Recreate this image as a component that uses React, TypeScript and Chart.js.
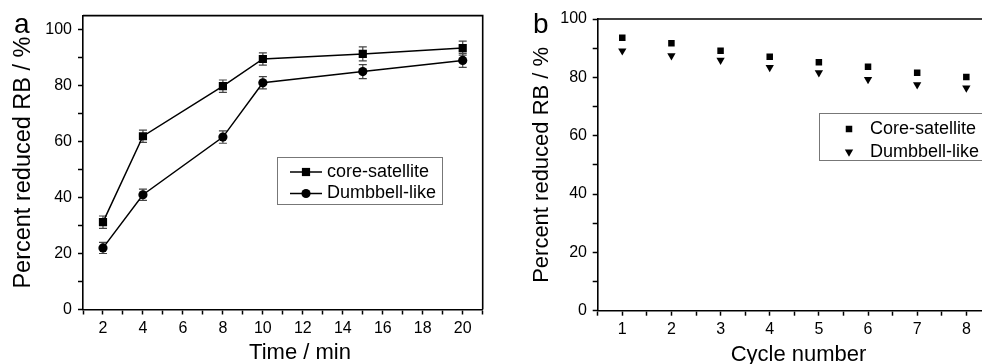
import React, { useEffect, useRef } from "react";
import { Chart, registerables } from "chart.js";
Chart.register(...registerables);

// ---------- data ----------
const timeMin = [2, 4, 8, 10, 15, 20];
const coreSatA = [31.2, 61.9, 79.8, 89.5, 91.3, 93.4];
const coreSatAErr = [2.2, 2.2, 2.2, 2.2, 2.5, 2.5];
const dumbbellA = [22.0, 41.0, 61.6, 81.0, 85.0, 89.0];
const dumbbellAErr = [2.0, 2.0, 2.2, 2.2, 2.5, 2.5];

const cycles = [1, 2, 3, 4, 5, 6, 7, 8];
const coreSatB = [93.6, 91.7, 89.1, 87.1, 85.2, 83.6, 81.6, 80.1];
const dumbbellB = [89.1, 87.4, 85.9, 83.4, 81.6, 79.3, 77.5, 76.4];

const yTickLabels = [0, 20, 40, 60, 80, 100];
const xTickLabelsA = [2, 4, 6, 8, 10, 12, 14, 16, 18, 20];
const xTickLabelsB = [1, 2, 3, 4, 5, 6, 7, 8];

const legendA = ["core-satellite", "Dumbbell-like"];
const legendB = ["Core-satellite", "Dumbbell-like"];

const FONT = "'Liberation Sans', Arial, sans-serif";

// ---------- plugins ----------
const framePlugin = {
  id: "frame",
  afterDatasetsDraw(chart: any) {
    const { ctx, chartArea: a } = chart;
    ctx.save();
    ctx.strokeStyle = "#000";
    ctx.lineWidth = 1.6;
    ctx.beginPath();
    ctx.moveTo(a.left, a.top);
    ctx.lineTo(a.right, a.top);
    ctx.lineTo(a.right, a.bottom);
    ctx.stroke();
    ctx.restore();
  },
};

const errorBarPlugin = {
  id: "errorBars",
  beforeDatasetsDraw(chart: any) {
    const { ctx } = chart;
    const xs = chart.scales.x;
    const ys = chart.scales.y;
    ctx.save();
    ctx.strokeStyle = "#444";
    ctx.lineWidth = 1.2;
    chart.data.datasets.forEach((ds: any) => {
      if (!ds.errors) return;
      ds.data.forEach((p: any, i: number) => {
        const e = ds.errors[i];
        const px = xs.getPixelForValue(p.x);
        const top = ys.getPixelForValue(p.y + e);
        const bot = ys.getPixelForValue(p.y - e);
        ctx.beginPath();
        ctx.moveTo(px, top);
        ctx.lineTo(px, bot);
        ctx.moveTo(px - 4, top);
        ctx.lineTo(px + 4, top);
        ctx.moveTo(px - 4, bot);
        ctx.lineTo(px + 4, bot);
        ctx.stroke();
      });
    });
    ctx.restore();
  },
};

function drawMarker(ctx: any, style: string, x: number, y: number, r: number, rot = 0) {
  ctx.save();
  ctx.fillStyle = "#000";
  ctx.beginPath();
  if (style === "rect") {
    const s = Math.SQRT1_2 * r;
    ctx.rect(x - s, y - s, 2 * s, 2 * s);
  } else if (style === "circle") {
    ctx.arc(x, y, r, 0, Math.PI * 2);
  } else if (style === "triangle") {
    let rad = (rot * Math.PI) / 180;
    ctx.moveTo(x + Math.sin(rad) * r, y - Math.cos(rad) * r);
    rad += (2 * Math.PI) / 3;
    ctx.lineTo(x + Math.sin(rad) * r, y - Math.cos(rad) * r);
    rad += (2 * Math.PI) / 3;
    ctx.lineTo(x + Math.sin(rad) * r, y - Math.cos(rad) * r);
    ctx.closePath();
  }
  ctx.fill();
  ctx.restore();
}

const boxLegendPlugin = {
  id: "boxLegend",
  afterDraw(chart: any, _args: any, opts: any) {
    const { ctx } = chart;
    ctx.save();
    ctx.strokeStyle = "#777";
    ctx.lineWidth = 1;
    ctx.strokeRect(opts.box[0] + 0.5, opts.box[1] + 0.5, opts.box[2], opts.box[3]);
    ctx.font = `18px ${FONT}`;
    ctx.textBaseline = "middle";
    ctx.textAlign = "left";
    ctx.fillStyle = "#000";
    chart.data.datasets.forEach((ds: any, i: number) => {
      const y = opts.rows[i];
      if (opts.line) {
        ctx.strokeStyle = "#000";
        ctx.lineWidth = 1.5;
        ctx.beginPath();
        ctx.moveTo(opts.line[0], y);
        ctx.lineTo(opts.line[1], y);
        ctx.stroke();
      }
      drawMarker(ctx, ds.pointStyle, opts.markerX, y, ds.pointRadius, ds.rotation || 0);
      ctx.fillText(opts.labels[i], opts.textX, y);
    });
    // panel letter
    ctx.font = `28px ${FONT}`;
    ctx.textBaseline = "alphabetic";
    ctx.fillText(opts.letter, opts.letterPos[0], opts.letterPos[1]);
    // x axis title
    ctx.font = `22px ${FONT}`;
    ctx.textAlign = "center";
    ctx.fillText(opts.xTitle, opts.xTitlePos[0], opts.xTitlePos[1]);
    ctx.restore();
  },
};

// ---------- scales ----------
function yScale(max: number, width: number, titleSize: number, titlePad: number, tickPad: number) {
  return {
    type: "linear",
    min: 0,
    max,
    ticks: {
      stepSize: 10,
      includeBounds: false,
      autoSkip: false,
      padding: tickPad,
      color: "#000",
      font: { family: FONT, size: 16 },
      callback: (v: number) => (yTickLabels.includes(v) ? String(v) : ""),
    },
    grid: { drawOnChartArea: false, drawTicks: true, tickLength: 5, tickWidth: 1.5, tickColor: "#000" },
    border: { display: true, color: "#000", width: 1.6 },
    title: {
      display: true,
      text: "Percent reduced RB / %",
      color: "#000",
      font: { family: FONT, size: titleSize },
      padding: { top: titlePad, bottom: 0 },
    },
    afterFit: (s: any) => {
      s.width = width;
    },
  };
}

function xScale(min: number, max: number, step: number, labels: number[], height: number) {
  return {
    type: "linear",
    min,
    max,
    ticks: {
      stepSize: step,
      autoSkip: false,
      maxRotation: 0,
      padding: 4,
      color: "#000",
      font: { family: FONT, size: 16 },
      callback: (v: number) => (labels.includes(v) ? String(v) : ""),
    },
    grid: { drawOnChartArea: false, drawTicks: true, tickLength: 5, tickWidth: 1.5, tickColor: "#000" },
    border: { display: true, color: "#000", width: 1.6 },
    title: { display: false },
    afterFit: (s: any) => {
      s.height = height;
    },
  };
}

function configA(): any {
  return {
    type: "line",
    data: {
      datasets: [
        {
          label: legendA[0],
          data: timeMin.map((x, i) => ({ x, y: coreSatA[i] })),
          errors: coreSatAErr,
          borderColor: "#000",
          backgroundColor: "#000",
          borderWidth: 1.5,
          pointStyle: "rect",
          pointRadius: 5.8,
          pointBorderWidth: 0,
          tension: 0,
        },
        {
          label: legendA[1],
          data: timeMin.map((x, i) => ({ x, y: dumbbellA[i] })),
          errors: dumbbellAErr,
          borderColor: "#000",
          backgroundColor: "#000",
          borderWidth: 1.5,
          pointStyle: "circle",
          pointRadius: 4.6,
          pointBorderWidth: 0,
          tension: 0,
        },
      ],
    },
    options: {
      animation: false,
      responsive: false,
      layout: { padding: { top: 12, right: 17.3, left: 0, bottom: 0 } },
      scales: {
        x: xScale(1, 21, 1, xTickLabelsA, 54.5),
        y: yScale(105, 83, 23.5, 9, 6),
      },
      plugins: {
        legend: { display: false },
        tooltip: { enabled: false },
        boxLegend: {
          box: [277, 157, 165, 47],
          rows: [172, 193.5],
          line: [290, 322],
          markerX: 306,
          textX: 327,
          labels: legendA,
          letter: "a",
          letterPos: [14, 33],
          xTitle: "Time / min",
          xTitlePos: [300, 359],
        },
      },
    },
    plugins: [errorBarPlugin, framePlugin, boxLegendPlugin],
  };
}

function configB(): any {
  return {
    type: "line",
    data: {
      datasets: [
        {
          label: legendB[0],
          data: cycles.map((x, i) => ({ x, y: coreSatB[i] })),
          showLine: false,
          backgroundColor: "#000",
          borderColor: "#000",
          pointStyle: "rect",
          pointRadius: 4.6,
          pointBorderWidth: 0,
        },
        {
          label: legendB[1],
          data: cycles.map((x, i) => ({ x, y: dumbbellB[i] })),
          showLine: false,
          backgroundColor: "#000",
          borderColor: "#000",
          pointStyle: "triangle",
          rotation: 180,
          pointRotation: 180,
          pointRadius: 4.8,
          pointBorderWidth: 0,
        },
      ],
    },
    options: {
      animation: false,
      responsive: false,
      layout: { padding: { top: 19, right: 9.1, left: 0, bottom: 0 } },
      scales: {
        x: xScale(0.5, 8.5, 0.5, xTickLabelsB, 53.3),
        y: yScale(100, 97.7, 22, 29, 5.7),
      },
      plugins: {
        legend: { display: false },
        tooltip: { enabled: false },
        boxLegend: {
          box: [319, 113, 200, 47],
          rows: [129, 152],
          line: null,
          markerX: 349,
          textX: 370,
          labels: legendB,
          letter: "b",
          letterPos: [33, 33],
          xTitle: "Cycle number",
          xTitlePos: [298.5, 361],
        },
      },
    },
    plugins: [framePlugin, boxLegendPlugin],
  };
}

function Panel({ make, left }: { make: () => any; left: number }) {
  const ref = useRef<HTMLCanvasElement>(null);
  useEffect(() => {
    const chart = new Chart(ref.current as HTMLCanvasElement, make());
    return () => chart.destroy();
  }, []);
  return (
    <div style={{ position: "absolute", left, top: 0, width: 500, height: 364 }}>
      <canvas ref={ref} width={500} height={364} style={{ width: 500, height: 364, display: "block" }} />
    </div>
  );
}

export default function App() {
  return (
    <div
      style={{
        position: "fixed",
        left: 0,
        top: 0,
        width: 982,
        height: 364,
        overflow: "hidden",
        background: "#fff",
      }}
    >
      <Panel make={configA} left={0} />
      <Panel make={configB} left={500} />
    </div>
  );
}
